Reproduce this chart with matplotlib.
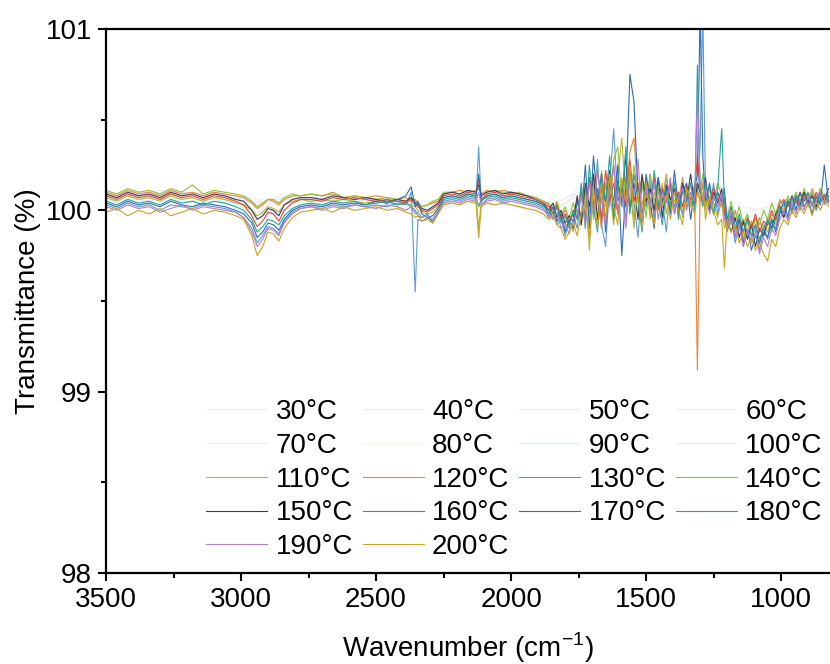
import numpy as np
import matplotlib
matplotlib.use("Agg")
import matplotlib.pyplot as plt
from matplotlib.ticker import MultipleLocator

plt.rcParams['font.family'] = ['Liberation Sans', 'DejaVu Sans']
plt.rcParams['mathtext.fontset'] = 'custom'
plt.rcParams['mathtext.rm'] = 'Liberation Sans'

# ---------------- wavenumber grids (cm-1) ----------------
WN = [3500, 3460, 3420, 3380, 3340, 3300, 3260, 3220, 3180, 3140, 3100, 3060, 3020, 2990,
      2960, 2940, 2920, 2900, 2880, 2860, 2840, 2810, 2780, 2740, 2700, 2660, 2620, 2580,
      2540, 2500, 2460, 2420, 2390, 2370, 2355, 2345, 2330, 2310, 2290, 2270, 2250, 2220,
      2190, 2160, 2130, 2120, 2110, 2090, 2060, 2030, 2000, 1970, 1940, 1910, 1880,
      1860, 1845, 1830, 1815, 1800, 1785, 1770, 1755, 1740, 1725, 1710, 1695, 1680, 1665,
      1650, 1635, 1620, 1605, 1590, 1575, 1560, 1545, 1530, 1515, 1500, 1485, 1470, 1455,
      1440, 1425, 1410, 1395, 1380, 1365, 1350, 1335, 1320, 1310, 1300, 1290, 1280, 1265,
      1250, 1235, 1220, 1210, 1200, 1185, 1170, 1155, 1140, 1125, 1110, 1095, 1080, 1065,
      1050, 1035, 1020, 1005, 990, 975, 960, 945, 930, 915, 900, 885, 870, 855, 840, 825]

WN_COARSE = [3500, 3400, 3300, 3200, 3100, 3000, 2940, 2860, 2750, 2600, 2450, 2300, 2150,
             2000, 1850, 1750, 1650, 1550, 1450, 1350, 1250, 1150, 1050, 950, 850]

# ---------------- transmittance (%) ----------------
# low temperatures: almost flat, drawn in very pale colours
T30 = [100.10, 100.09, 100.11, 100.10, 100.09, 100.08, 100.06, 100.07, 100.08, 100.07, 100.06, 100.05, 100.09,
       100.08, 100.02, 100.05, 100.12, 100.08, 100.14, 100.06, 100.10, 100.02, 100.00, 100.06, 100.08]
T40 = [100.08, 100.10, 100.09, 100.08, 100.10, 100.06, 100.04, 100.05, 100.07, 100.06, 100.05, 100.04, 100.08,
       100.07, 100.00, 100.08, 99.98, 100.16, 100.04, 100.12, 100.06, 99.98, 100.02, 100.05, 100.10]
T50 = [100.09, 100.08, 100.10, 100.09, 100.08, 100.07, 100.05, 100.06, 100.07, 100.06, 100.04, 100.03, 100.08,
       100.06, 100.03, 100.10, 100.02, 100.12, 100.00, 100.10, 100.04, 99.96, 99.98, 100.04, 100.06]
T60 = [100.07, 100.09, 100.08, 100.10, 100.07, 100.06, 100.03, 100.04, 100.06, 100.05, 100.05, 100.02, 100.07,
       100.06, 99.98, 100.04, 100.14, 99.98, 100.10, 100.02, 100.08, 99.94, 99.96, 100.06, 100.04]
T70 = [100.08, 100.07, 100.09, 100.08, 100.06, 100.05, 100.02, 100.03, 100.05, 100.05, 100.04, 100.02, 100.06,
       100.05, 100.01, 100.12, 100.04, 100.18, 100.05, 100.08, 100.00, 99.95, 99.92, 100.03, 100.07]
T80 = [100.06, 100.08, 100.07, 100.06, 100.07, 100.04, 100.01, 100.02, 100.04, 100.04, 100.03, 100.01, 100.06,
       100.04, 99.96, 100.06, 100.10, 100.02, 100.15, 100.04, 100.06, 99.92, 99.94, 100.02, 100.05]
T90 = [100.05, 100.06, 100.07, 100.05, 100.06, 100.03, 99.99, 100.00, 100.03, 100.03, 100.02, 100.00, 100.05,
       100.03, 99.98, 100.10, 99.96, 100.20, 100.06, 100.02, 100.04, 99.90, 99.92, 100.01, 100.04]
T100 = [100.04, 100.05, 100.06, 100.04, 100.05, 100.02, 99.97, 99.99, 100.02, 100.02, 100.01, 99.99, 100.04,
        100.03, 99.95, 100.04, 100.08, 99.98, 100.12, 100.00, 100.06, 99.88, 99.90, 100.00, 100.03]

T110 = [100.07, 100.05, 100.08, 100.06, 100.07, 100.05, 100.08, 100.06, 100.07, 100.05, 100.07, 100.06, 100.04, 100.03,
        100.00, 99.97, 99.99, 100.02, 100.01, 99.99, 100.03, 100.05, 100.06, 100.05, 100.06, 100.05, 100.06, 100.05,
        100.04, 100.05, 100.04, 100.05, 100.04, 100.03, 100.02, 100.00, 99.99, 99.98, 99.99, 100.02, 100.07, 100.08,
        100.07, 100.09, 100.08, 99.90, 100.06, 100.08, 100.09, 100.07, 100.08, 100.07, 100.06, 100.05, 100.03,
        99.97, 100.01, 99.94, 99.97, 99.90, 99.95, 99.88, 99.98, 99.92, 100.10, 99.78, 100.15, 99.95, 100.22,
        100.02, 100.12, 99.92, 100.18, 100.40, 100.05, 100.15, 99.90, 100.12, 100.02, 100.18, 99.95, 100.10, 100.02,
        100.15, 99.98, 100.12, 100.05, 100.08, 99.96, 100.12, 100.02, 100.08, 100.12, 100.05, 100.10, 100.00, 100.14,
        100.04, 99.96, 100.06, 99.90, 99.94, 100.02, 99.88, 99.96, 99.84, 99.94, 99.86, 99.96, 99.82, 99.92,
        99.88, 99.96, 99.92, 100.02, 99.98, 100.05, 100.00, 100.07, 100.02, 100.09, 100.03, 100.08, 100.00, 100.12,
        100.05, 100.08]
T120 = [100.10, 100.08, 100.11, 100.09, 100.10, 100.08, 100.11, 100.09, 100.10, 100.08, 100.10, 100.09, 100.08, 100.07,
        100.04, 100.01, 100.03, 100.06, 100.05, 100.03, 100.06, 100.08, 100.08, 100.09, 100.08, 100.10, 100.07, 100.08,
        100.07, 100.08, 100.07, 100.06, 100.07, 100.05, 100.06, 100.04, 100.02, 100.03, 100.04, 100.05, 100.09, 100.10,
        100.11, 100.10, 100.11, 100.15, 100.09, 100.11, 100.10, 100.11, 100.10, 100.09, 100.08, 100.07, 100.05,
        100.03, 99.99, 100.04, 99.96, 100.00, 99.94, 99.98, 100.06, 99.95, 100.12, 99.98, 100.20, 100.05, 99.90,
        100.15, 100.02, 100.25, 99.98, 100.15, 100.05, 100.32, 100.40, 100.08, 100.18, 100.02, 100.15, 99.96, 100.12,
        100.05, 100.20, 100.00, 100.12, 100.05, 100.18, 100.02, 100.10, 100.05, 99.12, 100.08, 100.15, 100.02, 100.12,
        100.05, 100.10, 100.02, 100.08, 99.98, 99.92, 100.00, 99.90, 99.95, 99.86, 99.94, 99.88, 99.96, 99.86,
        99.92, 99.98, 99.94, 100.03, 100.00, 100.06, 100.02, 100.08, 100.04, 100.10, 100.05, 100.12, 100.06, 100.10,
        100.04, 100.08]
T130 = [100.03, 100.01, 100.04, 100.02, 100.03, 100.00, 100.03, 100.02, 100.01, 100.03, 100.02, 100.01, 99.99, 99.96,
        99.90, 99.82, 99.86, 99.91, 99.90, 99.87, 99.94, 99.99, 100.01, 100.02, 100.01, 100.03, 100.02, 100.03,
        100.02, 100.03, 100.02, 100.04, 100.03, 100.10, 99.55, 99.95, 99.94, 99.96, 99.94, 99.99, 100.05, 100.06,
        100.05, 100.07, 100.06, 100.35, 100.03, 100.06, 100.07, 100.05, 100.06, 100.05, 100.04, 100.03, 100.01,
        99.96, 99.99, 99.92, 99.96, 99.86, 99.94, 99.98, 99.90, 100.10, 99.95, 100.18, 100.02, 100.28, 99.92,
        99.80, 100.15, 100.45, 100.05, 100.12, 99.95, 100.22, 100.05, 99.85, 100.15, 100.02, 100.20, 99.95, 100.10,
        100.05, 99.88, 100.15, 100.02, 100.10, 99.98, 100.12, 100.04, 100.15, 100.10, 100.35, 101.10, 100.10, 100.02,
        100.15, 99.98, 100.10, 100.05, 99.88, 99.96, 99.82, 99.92, 99.80, 99.88, 99.84, 99.92, 99.78, 99.88,
        99.84, 99.94, 99.90, 100.00, 99.96, 100.04, 99.98, 100.06, 100.00, 100.08, 100.02, 100.10, 100.00, 100.06,
        100.04, 100.08]
T140 = [100.11, 100.09, 100.12, 100.10, 100.11, 100.09, 100.12, 100.10, 100.14, 100.09, 100.11, 100.10, 100.09, 100.08,
        100.05, 100.02, 100.04, 100.06, 100.06, 100.04, 100.07, 100.09, 100.08, 100.09, 100.08, 100.09, 100.07, 100.08,
        100.07, 100.06, 100.07, 100.06, 100.05, 100.07, 100.05, 100.04, 100.02, 100.03, 100.05, 100.06, 100.10, 100.10,
        100.09, 100.11, 100.10, 100.12, 100.09, 100.10, 100.11, 100.10, 100.09, 100.10, 100.08, 100.07, 100.05,
        100.04, 100.00, 100.05, 99.97, 100.02, 99.95, 100.04, 99.98, 100.12, 100.00, 100.18, 99.95, 100.22, 100.05,
        100.15, 100.02, 100.28, 100.35, 100.05, 100.18, 100.00, 100.25, 100.08, 100.15, 99.96, 100.20, 100.05, 100.12,
        100.02, 100.18, 100.04, 100.10, 100.00, 100.15, 100.08, 100.02, 100.12, 100.15, 100.10, 100.20, 100.02, 100.12,
        100.05, 100.15, 100.08, 100.02, 99.96, 100.05, 99.94, 100.02, 99.92, 99.98, 99.90, 99.96, 99.92, 100.00,
        99.95, 100.04, 99.98, 100.06, 100.02, 100.08, 100.04, 100.10, 100.05, 100.12, 100.06, 100.10, 100.04, 100.12,
        100.07, 100.10]
T150 = [100.09, 100.07, 100.10, 100.08, 100.09, 100.07, 100.10, 100.08, 100.09, 100.07, 100.09, 100.08, 100.06, 100.05,
        100.00, 99.95, 99.97, 100.01, 100.00, 99.97, 100.03, 100.06, 100.07, 100.07, 100.06, 100.08, 100.07, 100.06,
        100.07, 100.06, 100.05, 100.06, 100.05, 100.07, 100.04, 100.03, 100.01, 100.00, 100.02, 100.04, 100.09, 100.10,
        100.09, 100.11, 100.10, 100.14, 100.08, 100.10, 100.11, 100.09, 100.10, 100.09, 100.08, 100.06, 100.04,
        100.00, 100.04, 99.96, 100.00, 99.93, 99.97, 99.94, 100.08, 99.92, 100.15, 100.02, 100.20, 99.95, 100.12,
        100.05, 100.22, 99.98, 100.16, 100.05, 100.30, 100.00, 100.15, 99.95, 100.20, 100.05, 100.12, 100.00, 100.18,
        99.96, 100.14, 100.06, 100.12, 99.98, 100.15, 100.05, 100.20, 100.02, 100.15, 100.10, 100.05, 100.18, 100.00,
        100.10, 100.04, 100.12, 99.98, 99.95, 99.88, 99.96, 99.85, 99.94, 99.84, 99.92, 99.80, 99.90, 99.86,
        99.95, 99.90, 99.98, 100.02, 99.96, 100.05, 100.00, 100.08, 100.03, 100.10, 100.04, 100.08, 100.02, 100.10,
        100.05, 100.12]
T160 = [100.08, 100.06, 100.09, 100.07, 100.08, 100.06, 100.09, 100.07, 100.08, 100.06, 100.08, 100.07, 100.05, 100.03,
        99.97, 99.91, 99.94, 99.99, 99.98, 99.94, 100.00, 100.04, 100.06, 100.06, 100.05, 100.07, 100.06, 100.07,
        100.06, 100.05, 100.06, 100.05, 100.04, 100.06, 100.03, 100.02, 100.00, 99.99, 100.01, 100.03, 100.08, 100.09,
        100.08, 100.10, 100.09, 100.18, 100.06, 100.09, 100.10, 100.08, 100.09, 100.08, 100.07, 100.06, 100.04,
        100.02, 99.98, 100.03, 99.95, 99.98, 99.92, 100.00, 99.96, 100.10, 99.95, 100.18, 100.02, 100.12, 99.95,
        100.22, 100.05, 100.15, 99.98, 100.12, 100.02, 100.28, 100.05, 100.15, 99.98, 100.10, 100.02, 100.18, 100.00,
        100.12, 100.05, 100.15, 99.98, 100.10, 100.02, 100.14, 100.06, 100.10, 100.30, 100.12, 100.05, 100.10, 100.02,
        100.12, 100.06, 100.08, 100.00, 99.92, 99.98, 99.90, 99.95, 99.88, 99.96, 99.90, 99.98, 99.88, 99.94,
        99.92, 100.00, 99.95, 100.04, 100.06, 100.02, 100.08, 100.04, 100.10, 100.05, 100.09, 100.03, 100.10, 100.06,
        100.08, 100.04]
T170 = [100.04, 100.02, 100.05, 100.03, 100.04, 100.02, 100.05, 100.03, 100.02, 100.04, 100.03, 100.02, 100.00, 99.98,
        99.93, 99.85, 99.88, 99.93, 99.92, 99.89, 99.95, 100.00, 100.02, 100.03, 100.02, 100.04, 100.03, 100.04,
        100.03, 100.05, 100.04, 100.06, 100.08, 100.13, 100.02, 100.05, 99.98, 99.96, 99.97, 100.01, 100.07, 100.08,
        100.07, 100.09, 100.08, 100.20, 100.05, 100.08, 100.09, 100.07, 100.08, 100.07, 100.06, 100.05, 100.03,
        99.98, 100.02, 99.94, 99.98, 99.88, 99.95, 99.90, 100.05, 99.95, 100.25, 99.90, 100.30, 100.05, 100.20,
        99.88, 100.15, 100.05, 100.25, 99.75, 100.12, 100.75, 100.60, 100.10, 99.92, 100.20, 100.05, 99.90, 100.18,
        100.05, 100.12, 99.98, 100.22, 100.02, 100.10, 100.15, 99.95, 100.12, 100.20, 101.10, 100.30, 100.05, 100.15,
        99.98, 100.10, 100.05, 100.12, 99.92, 99.98, 99.85, 99.95, 99.82, 99.90, 99.78, 99.86, 99.82, 99.90,
        99.85, 99.95, 99.88, 99.98, 100.05, 99.96, 100.08, 100.00, 100.10, 100.02, 100.06, 99.98, 100.08, 100.03,
        100.25, 100.05]
T180 = [100.05, 100.03, 100.06, 100.04, 100.05, 100.03, 100.06, 100.04, 100.05, 100.03, 100.05, 100.04, 100.02, 100.00,
        99.95, 99.88, 99.91, 99.95, 99.94, 99.92, 99.97, 100.01, 100.03, 100.04, 100.03, 100.05, 100.04, 100.05,
        100.03, 100.04, 100.05, 100.03, 100.04, 100.02, 100.00, 99.97, 99.96, 99.98, 99.93, 99.99, 100.06, 100.07,
        100.06, 100.08, 100.07, 100.02, 100.06, 100.07, 100.08, 100.06, 100.07, 100.06, 100.05, 100.04, 100.02,
        100.00, 99.96, 100.02, 99.93, 99.97, 99.90, 100.00, 99.95, 100.15, 99.90, 100.25, 100.02, 99.88, 100.18,
        100.05, 100.30, 99.95, 100.15, 100.02, 100.35, 99.98, 100.20, 100.05, 99.88, 100.15, 100.00, 100.22, 100.05,
        99.92, 100.10, 100.02, 100.16, 99.95, 100.12, 100.05, 100.15, 100.00, 100.80, 100.10, 100.02, 100.15, 100.05,
        99.98, 100.12, 100.45, 100.05, 99.95, 100.02, 99.90, 99.98, 99.88, 99.95, 99.86, 99.92, 99.84, 99.90,
        99.95, 99.88, 99.96, 100.02, 99.98, 100.06, 100.00, 100.08, 100.02, 100.06, 100.10, 100.03, 100.08, 100.04,
        100.09, 100.05]
T190 = [100.02, 100.00, 100.03, 100.01, 100.02, 99.99, 100.01, 100.03, 100.00, 100.02, 100.01, 100.00, 99.99, 99.96,
        99.88, 99.80, 99.84, 99.90, 99.89, 99.86, 99.93, 99.98, 100.01, 100.02, 100.00, 100.02, 100.01, 100.03,
        100.02, 100.01, 100.03, 100.02, 100.00, 100.02, 99.98, 99.99, 99.96, 99.97, 99.95, 100.00, 100.04, 100.05,
        100.04, 100.06, 100.05, 100.10, 100.03, 100.05, 100.06, 100.04, 100.05, 100.04, 100.03, 100.02, 100.00,
        99.98, 99.95, 99.99, 99.90, 99.93, 99.87, 99.95, 99.98, 100.08, 99.92, 100.15, 99.98, 100.22, 100.05,
        99.92, 100.12, 100.25, 99.98, 100.10, 99.90, 100.18, 100.08, 100.28, 99.95, 100.12, 100.02, 100.15, 99.95,
        100.10, 100.04, 100.18, 99.98, 100.08, 100.12, 100.00, 100.10, 100.05, 100.65, 100.15, 100.05, 100.12, 99.98,
        100.08, 100.02, 100.10, 99.95, 99.90, 100.00, 99.85, 99.92, 99.80, 99.90, 99.82, 99.88, 99.76, 99.85,
        99.80, 99.90, 99.86, 99.95, 100.00, 99.94, 100.04, 99.98, 100.06, 100.00, 100.08, 100.02, 100.05, 100.10,
        100.03, 100.07]
T200 = [99.99, 100.01, 99.97, 100.00, 99.98, 100.01, 99.97, 99.99, 100.01, 99.98, 100.00, 99.99, 99.97, 99.95,
        99.86, 99.75, 99.80, 99.88, 99.87, 99.83, 99.90, 99.96, 99.99, 100.00, 100.01, 99.99, 100.02, 100.00,
        100.01, 100.02, 100.00, 100.01, 99.99, 99.98, 99.96, 99.97, 99.94, 99.95, 99.93, 99.98, 100.03, 100.04,
        100.03, 100.05, 100.04, 99.85, 100.02, 100.04, 100.03, 100.04, 100.03, 100.02, 100.01, 100.00, 99.98,
        99.95, 99.97, 99.92, 99.90, 99.84, 99.88, 99.93, 99.86, 99.98, 100.05, 99.85, 100.12, 99.90, 100.15,
        99.95, 100.20, 100.02, 99.92, 100.18, 100.05, 100.25, 99.95, 100.10, 99.90, 100.15, 100.00, 99.92, 100.12,
        100.02, 100.08, 99.95, 100.10, 100.00, 99.92, 100.12, 100.05, 99.98, 100.10, 100.05, 100.15, 99.95, 100.08,
        100.00, 99.92, 99.95, 99.68, 99.95, 99.88, 99.92, 99.82, 99.88, 99.80, 99.85, 99.78, 99.82, 99.76,
        99.72, 99.84, 99.80, 99.90, 99.95, 99.92, 100.00, 99.96, 100.02, 99.98, 100.04, 99.97, 100.05, 100.00,
        100.06, 100.02]

LABELS = ['30°C', '40°C', '50°C', '60°C', '70°C', '80°C', '90°C', '100°C', '110°C', '120°C',
          '130°C', '140°C', '150°C', '160°C', '170°C', '180°C', '190°C', '200°C']

COLORS = ['#eeeeee', '#f6e8ea', '#e6f0f4', '#ebeef2', '#f0f0ec', '#f2f4ea', '#e4eef4', '#eaeef2',
          '#b8b53a', '#e8843c', '#5e9bd0', '#8cc43e', '#3b3b55', '#e0483c', '#2f6cb3', '#2aa396',
          '#b07fd4', '#d1a01c']

SERIES = [T30, T40, T50, T60, T70, T80, T90, T100, T110, T120,
          T130, T140, T150, T160, T170, T180, T190, T200]


def main():
    fig = plt.figure(figsize=(8.3, 6.64), dpi=100)
    ax = fig.add_axes([106 / 830, 91 / 664, 724 / 830, 544 / 664])

    handles = []
    for lab, col, ys in zip(LABELS, COLORS, SERIES):
        xs = WN_COARSE if len(ys) == len(WN_COARSE) else WN
        ln, = ax.plot(xs, ys, color=col, lw=0.8, label=lab)
        handles.append(ln)

    ax.set_xlim(3500, 819)
    ax.set_ylim(98, 101)
    ax.xaxis.set_major_locator(MultipleLocator(500))
    ax.xaxis.set_minor_locator(MultipleLocator(250))
    ax.yaxis.set_major_locator(MultipleLocator(1))
    ax.yaxis.set_minor_locator(MultipleLocator(0.5))

    for s in ['left', 'bottom', 'top']:
        ax.spines[s].set_linewidth(1.6)
    ax.spines['right'].set_visible(False)
    ax.tick_params(which='both', direction='out', width=1.5, labelsize=20, pad=4,
                   top=False, right=False)
    ax.tick_params(which='major', length=6)
    ax.tick_params(which='minor', length=3.5)

    ax.set_xlabel(r'Wavenumber (cm$^{\mathrm{-1}}$)', fontsize=20, labelpad=13)
    ax.set_ylabel('Transmittance (%)', fontsize=20, labelpad=3)

    # legend reads row by row (4 per row); matplotlib fills column by column
    ncol = 4
    order = [i for c in range(ncol) for i in range(c, len(handles), ncol)]
    ax.legend([handles[i] for i in order], [LABELS[i] for i in order],
              loc='upper left', bbox_to_anchor=(206 / 830, 1 - 399 / 664),
              bbox_transform=fig.transFigure, ncol=ncol, frameon=False, fontsize=20,
              handlelength=2.2, handletextpad=0.3, columnspacing=0.35,
              labelspacing=0.28, borderpad=0, borderaxespad=0)

    fig.savefig('out.png', dpi=100)


if __name__ == '__main__':
    main()
